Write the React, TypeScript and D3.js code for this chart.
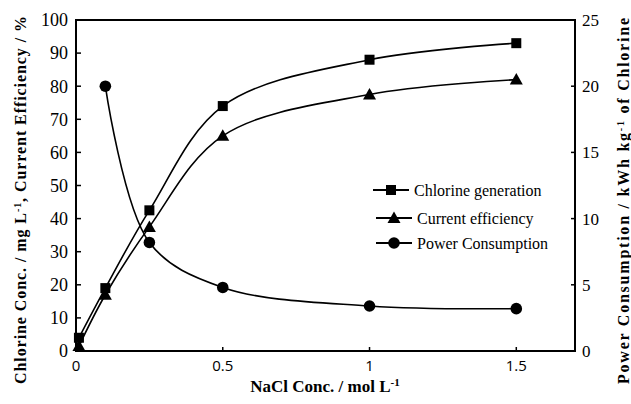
import React from "react";
import * as d3 from "d3";

const xValsCl = [0.01, 0.1, 0.25, 0.5, 1, 1.5];
const chlorine = [4, 19, 42.5, 74, 88, 93];
const efficiency = [1.5, 17, 37.5, 65, 77.5, 82];
const xValsPw = [0.1, 0.25, 0.5, 1, 1.5];
const power = [20, 8.2, 4.8, 3.4, 3.2];
const xTicks = [0, 0.5, 1, 1.5];
const yTicks = [0, 10, 20, 30, 40, 50, 60, 70, 80, 90, 100];
const y2Ticks = [0, 5, 10, 15, 20, 25];
const legendLabels = ["Chlorine generation", "Current efficiency", "Power Consumption"];

const W = 631, H = 404;
const L = 76, R = 575, T = 20, B = 351;
const serif = "'Liberation Serif', 'Times New Roman', serif";

export default function App() {
  const x = d3.scaleLinear().domain([0, 1.7]).range([L, R]);
  const y = d3.scaleLinear().domain([0, 100]).range([B, T]);
  const y2 = d3.scaleLinear().domain([0, 25]).range([B, T]);
  const curve = d3.curveCatmullRom.alpha(0.5);
  const lineL = d3.line<[number, number]>().x(d => x(d[0])).y(d => y(d[1])).curve(curve);
  const lineR = d3.line<[number, number]>().x(d => x(d[0])).y(d => y2(d[1])).curve(curve);
  const clPts: [number, number][] = xValsCl.map((v, i) => [v, chlorine[i]]);
  const efPts: [number, number][] = xValsCl.map((v, i) => [v, efficiency[i]]);
  const pwPts: [number, number][] = xValsPw.map((v, i) => [v, power[i]]);
  const sq = (cx: number, cy: number, k: string) => <rect key={k} x={cx - 5} y={cy - 5} width={10} height={10} fill="#000" />;
  const tri = (cx: number, cy: number, k: string) => <path key={k} d={`M${cx},${cy - 6.5}L${cx + 6.5},${cy + 5}L${cx - 6.5},${cy + 5}Z`} fill="#000" />;
  const circ = (cx: number, cy: number, k: string) => <circle key={k} cx={cx} cy={cy} r={5.8} fill="#000" />;
  const lgX = 373, lgY = [190, 218, 243];
  return (
    <svg width={W} height={H} style={{ position: "absolute", left: 0, top: 0, background: "#fff" }}>
      <rect x={0} y={0} width={W} height={H} fill="#fff" />
      <path d={lineL(clPts) || ""} fill="none" stroke="#000" strokeWidth={1.6} />
      <path d={lineL(efPts) || ""} fill="none" stroke="#000" strokeWidth={1.6} />
      <path d={lineR(pwPts) || ""} fill="none" stroke="#000" strokeWidth={1.6} />
      {clPts.map((d, i) => sq(x(d[0]), y(d[1]), "s" + i))}
      {efPts.map((d, i) => tri(x(d[0]), y(d[1]), "t" + i))}
      {pwPts.map((d, i) => circ(x(d[0]), y2(d[1]), "c" + i))}
      <rect x={L} y={T} width={R - L} height={B - T} fill="none" stroke="#000" strokeWidth={2} />
      {yTicks.map(t => (
        <g key={"y" + t}>
          <line x1={L} x2={L + 5} y1={y(t)} y2={y(t)} stroke="#000" strokeWidth={1.5} />
          <text x={L - 8} y={y(t)} dy="0.35em" textAnchor="end" fontFamily={serif} fontSize={18}>{t}</text>
        </g>
      ))}
      {y2Ticks.map(t => (
        <g key={"r" + t}>
          <line x1={R - 4} x2={R} y1={y2(t)} y2={y2(t)} stroke="#000" strokeWidth={1.5} />
          <text x={R + 7} y={y2(t)} dy="0.35em" textAnchor="start" fontFamily={serif} fontSize={17}>{t}</text>
        </g>
      ))}
      {xTicks.map(t => (
        <g key={"x" + t}>
          <line x1={x(t)} x2={x(t)} y1={B} y2={B - 4} stroke="#000" strokeWidth={1.5} />
          <text x={x(t)} y={B + 20} textAnchor="middle" fontFamily="'Open Sans', 'DejaVu Sans', sans-serif" fontSize={15}>{t}</text>
        </g>
      ))}
      <text x={325} y={392} textAnchor="middle" fontFamily={serif} fontWeight="bold" fontSize={17}>
        NaCl Conc. / mol L<tspan dy={-6} fontSize={11}>-1</tspan>
      </text>
      <text transform={`translate(26,200) rotate(-90)`} textAnchor="middle" fontFamily={serif} fontWeight="bold" fontSize={16} textLength={368} lengthAdjust="spacing">
        Chlorine Conc. / mg L<tspan dy={-5} fontSize={10}>-1</tspan><tspan dy={5}>, Current Efficiency / %</tspan>
      </text>
      <text transform={`translate(629,201) rotate(-90)`} textAnchor="middle" fontFamily={serif} fontWeight="bold" fontSize={16} textLength={366} lengthAdjust="spacing">
        Power Consumption / kWh kg<tspan dy={-5} fontSize={10}>-1</tspan><tspan dy={5}> of Chlorine</tspan>
      </text>
      {legendLabels.map((lab, i) => (
        <g key={"lg" + i}>
          <line x1={lgX + (i ? 3 : 0)} x2={lgX + 36 + (i ? 3 : 0)} y1={lgY[i]} y2={lgY[i]} stroke="#000" strokeWidth={2} />
          {i === 0 ? sq(lgX + 18, lgY[i], "ls") : i === 1 ? tri(lgX + 21, lgY[i], "lt") : circ(lgX + 21, lgY[i], "lc")}
          <text x={lgX + 41 + (i ? 3 : 0)} y={lgY[i]} dy="0.35em" fontFamily={serif} fontSize={16}>{lab}</text>
        </g>
      ))}
    </svg>
  );
}
